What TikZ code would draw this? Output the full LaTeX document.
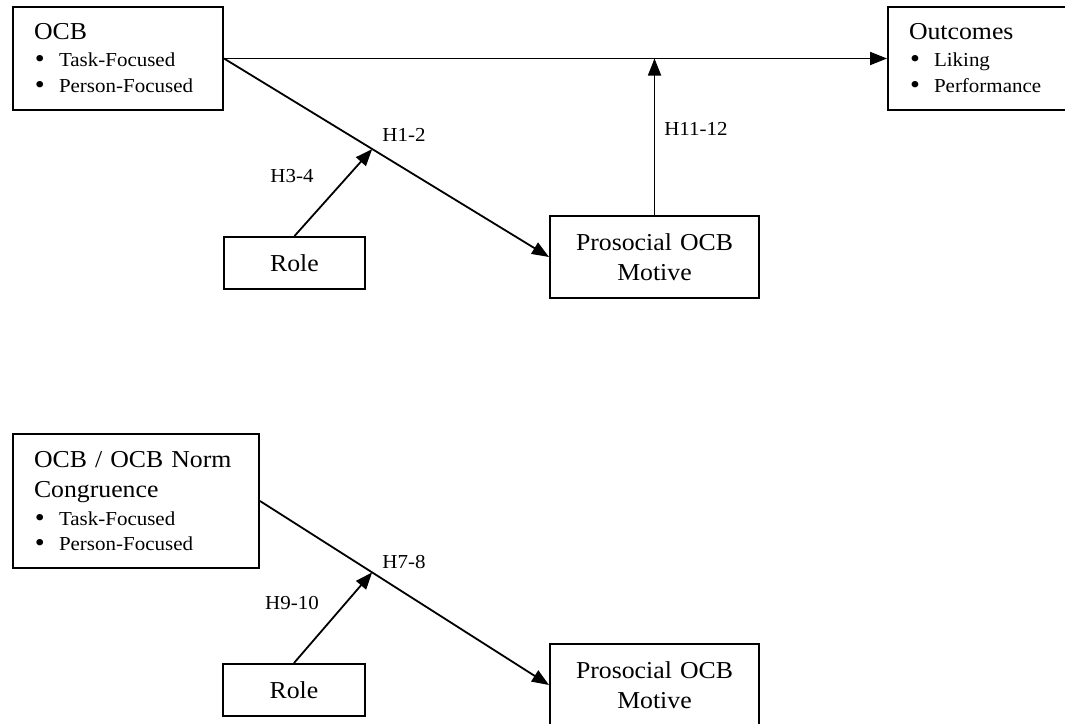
\documentclass[tikz,border=0pt]{standalone}
\usepackage{fontspec}
\setmainfont{Liberation Serif}[FakeStretch=1.06]
\usetikzlibrary{arrows.meta,calc}
\newcommand\bigf{\fontsize{24.3}{30}\selectfont}
\newcommand\smf{\fontsize{19.8}{26}\selectfont}
\newcommand\itm[1]{{\smf\makebox[25pt][l]{\hspace{1pt}\raisebox{-1pt}{\scalebox{1.35}{\textbullet}}}#1}}
\begin{document}
\begin{tikzpicture}[x=1pt,y=-1pt,
  box/.style={draw, line width=2pt, inner sep=0pt, anchor=north west, font=\bigf},
  arr/.style={line width=1.8pt, -{Triangle[length=17pt,width=13pt]}},
  lab/.style={font=\smf, inner sep=0pt}]
\useasboundingbox (0,0) rectangle (1065,723);
% top diagram
\node[box, minimum width=210pt, minimum height=103pt, text width=168pt, align=left] (ocb1) at (12,6)
  {OCB\\[-3pt] \itm{Task-Focused}\\[-4pt] \itm{Person-Focused}};
\node[box, minimum width=200pt, minimum height=103pt, text width=158pt, align=left] (out) at (887,6)
  {Outcomes\\[-3pt] \itm{Liking}\\[-4pt] \itm{Performance}};
\node[box, minimum width=209pt, minimum height=82pt, text width=190pt, align=center] (pro1) at (549,215)
  {Prosocial OCB\\ Motive};
\node[box, minimum width=141pt, minimum height=52pt, align=center] (role1) at (223,236) {Role};
\coordinate (m1) at ($(ocb1.east)!0.456!(pro1.west)$);
\coordinate (j1) at (pro1.north |- ocb1.east);
\draw[arr] (ocb1.east) -- (out.west);
\draw[arr] (ocb1.east) -- (pro1.west);
\draw[arr] (role1.north) -- (m1);
\draw[arr] (pro1.north) -- (j1);
\node[lab] (h12) at (404,135) {H1-2};
\node[lab] (h34) at (292,176) {H3-4};
\node[lab] (h1112) at (696,129) {H11-12};
% bottom diagram
\node[box, minimum width=246pt, minimum height=134pt, text width=204pt, align=left] (ocb2) at (12,433)
  {OCB / OCB Norm\\ Congruence\\[-2pt] \itm{Task-Focused}\\[-5pt] \itm{Person-Focused}};
\node[box, minimum width=209pt, minimum height=82pt, text width=190pt, align=center] (pro2) at (549,643)
  {Prosocial OCB\\ Motive};
\node[box, minimum width=142pt, minimum height=52pt, align=center] (role2) at (222,663) {Role};
\coordinate (m2) at ($(ocb2.east)!0.388!(pro2.west)$);
\draw[arr] (ocb2.east) -- (pro2.west);
\draw[arr] (role2.north) -- (m2);
\node[lab] (h78) at (404,562) {H7-8};
\node[lab] (h910) at (292,603) {H9-10};
\end{tikzpicture}
\end{document}
